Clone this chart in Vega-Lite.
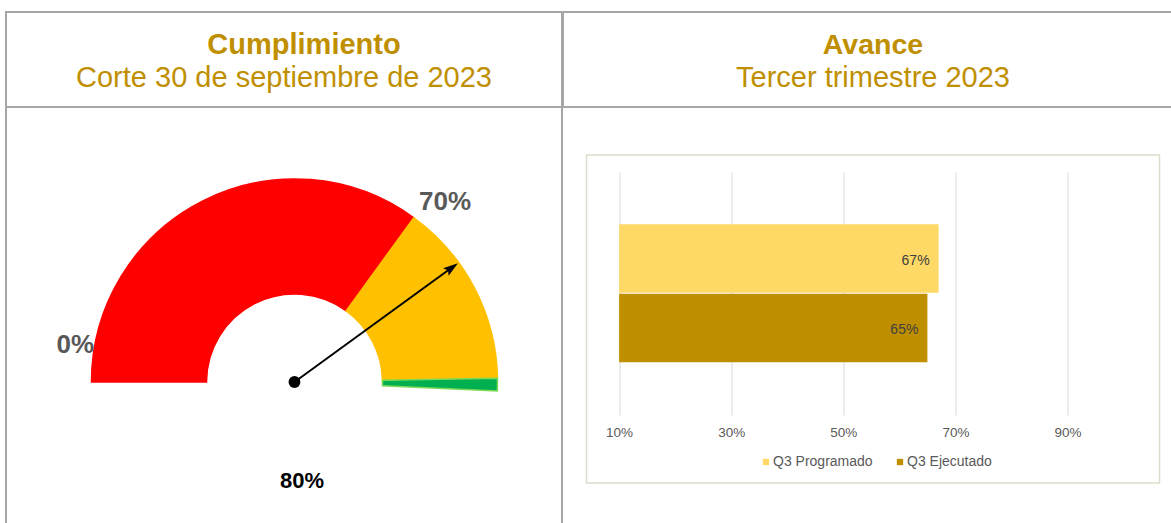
{
  "$schema": "https://vega.github.io/schema/vega-lite/v6.json",
  "padding": {"left": 5, "top": 11, "right": 0, "bottom": 0},
  "background": "white",
  "config": {
    "font": "Liberation Sans",
    "view": {"stroke": "#A6A6A6", "strokeWidth": 2}
  },
  "datasets": {
    "encabezados": [
      {"panel": "Cumplimiento", "titulo": "Cumplimiento", "subtitulo": "Corte 30 de septiembre de 2023"},
      {"panel": "Avance", "titulo": "Avance", "subtitulo": "Tercer trimestre 2023"}
    ],
    "medidor": [
      {"rango": "Bajo", "inicio": 0, "fin": 0.7},
      {"rango": "Medio", "inicio": 0.7, "fin": 0.994},
      {"rango": "Alto", "inicio": 0.994, "fin": 1.014}
    ],
    "cumplimiento": [{"indicador": "Cumplimiento", "valor": 0.8}],
    "avance": [
      {"serie": "Q3 Programado", "valor": 0.67},
      {"serie": "Q3 Ejecutado", "valor": 0.65}
    ]
  },
  "spacing": -2,
  "resolve": {"scale": {"color": "independent", "stroke": "independent"}},
  "hconcat": [
    {
      "bounds": "flush",
      "spacing": 0,
      "vconcat": [
        {
          "width": 556,
          "height": 95,
          "view": {"style": "cell", "stroke": "#A6A6A6", "strokeWidth": 2},
          "data": {"name": "encabezados"},
          "transform": [{"filter": "datum.panel === 'Cumplimiento'"}],
          "layer": [
            {"mark": {"type": "text", "fontWeight": "bold", "fontSize": 29, "color": "#BF8F00", "baseline": "alphabetic", "dy": -6, "dx": 20}, "encoding": {"text": {"field": "titulo"}}},
            {"mark": {"type": "text", "fontSize": 29, "color": "#BF8F00", "baseline": "alphabetic", "dy": 27}, "encoding": {"text": {"field": "subtitulo"}}}
          ]
        },
        {
          "width": 556,
          "height": 423,
          "layer": [
            {
              "data": {"name": "medidor"},
              "mark": {"type": "arc", "innerRadius": 88, "outerRadius": 203, "strokeWidth": 1.5},
              "encoding": {
                "x": {"datum": 0, "type": "quantitative", "scale": {"domain": [-1.4142, 1.3113], "nice": false, "zero": false}, "axis": null},
                "y": {"datum": 0, "type": "quantitative", "scale": {"domain": [-0.7255, 1.348], "nice": false, "zero": false}, "axis": null},
                "theta": {"field": "inicio", "type": "quantitative", "scale": {"domain": [0, 1], "range": [-1.5708, 1.5708]}, "stack": null},
                "theta2": {"field": "fin"},
                "color": {"field": "rango", "type": "nominal", "scale": {"domain": ["Bajo", "Medio", "Alto"], "range": ["#FF0000", "#FFC000", "#00B050"]}, "legend": null},
                "stroke": {"field": "rango", "type": "nominal", "scale": {"domain": ["Bajo", "Medio", "Alto"], "range": ["#FF0000", "#FFC000", "#7ED957"]}, "legend": null}
              }
            },
            {
              "data": {"name": "cumplimiento"},
              "mark": {"type": "rule", "color": "#000000", "strokeWidth": 2},
              "encoding": {
                "x": {"datum": 0, "type": "quantitative", "scale": {"domain": [-1.4142, 1.3113], "nice": false, "zero": false}, "axis": null},
                "y": {"datum": 0, "type": "quantitative", "scale": {"domain": [-0.7255, 1.348], "nice": false, "zero": false}, "axis": null},
                "x2": {"datum": 0.755},
                "y2": {"datum": 0.549}
              }
            },
            {
              "data": {"name": "cumplimiento"},
              "mark": {"type": "point", "shape": "M0,0L-0.45,1.4L0,1.15L0.45,1.4Z", "filled": true, "color": "#000000", "opacity": 1, "size": 450, "angle": 54},
              "encoding": {
                "x": {"datum": 0.801, "type": "quantitative", "scale": {"domain": [-1.4142, 1.3113], "nice": false, "zero": false}, "axis": null},
                "y": {"datum": 0.582, "type": "quantitative", "scale": {"domain": [-0.7255, 1.348], "nice": false, "zero": false}, "axis": null}
              }
            },
            {
              "data": {"name": "cumplimiento"},
              "mark": {"type": "point", "shape": "circle", "filled": true, "color": "#000000", "opacity": 1, "size": 140},
              "encoding": {
                "x": {"datum": 0, "type": "quantitative", "scale": {"domain": [-1.4142, 1.3113], "nice": false, "zero": false}, "axis": null},
                "y": {"datum": 0, "type": "quantitative", "scale": {"domain": [-0.7255, 1.348], "nice": false, "zero": false}, "axis": null}
              }
            },
            {
              "data": {"name": "medidor"},
              "transform": [{"filter": "datum.rango === 'Bajo'"}],
              "mark": {"type": "text", "fontWeight": "bold", "fontSize": 26, "color": "#595959", "baseline": "middle"},
              "encoding": {
                "x": {"datum": -1.074, "type": "quantitative", "scale": {"domain": [-1.4142, 1.3113], "nice": false, "zero": false}, "axis": null},
                "y": {"datum": 0.181, "type": "quantitative", "scale": {"domain": [-0.7255, 1.348], "nice": false, "zero": false}, "axis": null},
                "text": {"field": "inicio", "format": ".0%"}
              }
            },
            {
              "data": {"name": "medidor"},
              "transform": [{"filter": "datum.rango === 'Medio'"}],
              "mark": {"type": "text", "fontWeight": "bold", "fontSize": 26, "color": "#595959", "baseline": "middle"},
              "encoding": {
                "x": {"datum": 0.738, "type": "quantitative", "scale": {"domain": [-1.4142, 1.3113], "nice": false, "zero": false}, "axis": null},
                "y": {"datum": 0.882, "type": "quantitative", "scale": {"domain": [-0.7255, 1.348], "nice": false, "zero": false}, "axis": null},
                "text": {"field": "inicio", "format": ".0%"}
              }
            },
            {
              "data": {"name": "cumplimiento"},
              "mark": {"type": "text", "fontWeight": "bold", "fontSize": 22, "color": "#000000", "baseline": "middle"},
              "encoding": {
                "x": {"datum": 0.037, "type": "quantitative", "scale": {"domain": [-1.4142, 1.3113], "nice": false, "zero": false}, "axis": null},
                "y": {"datum": -0.485, "type": "quantitative", "scale": {"domain": [-0.7255, 1.348], "nice": false, "zero": false}, "axis": null},
                "text": {"field": "valor", "format": ".0%"}
              }
            }
          ]
        }
      ]
    },
    {
      "bounds": "flush",
      "spacing": 48,
      "center": true,
      "vconcat": [
        {
          "width": 620,
          "height": 95,
          "view": {"style": "cell", "stroke": "#A6A6A6", "strokeWidth": 2},
          "data": {"name": "encabezados"},
          "transform": [{"filter": "datum.panel === 'Avance'"}],
          "layer": [
            {"mark": {"type": "text", "fontWeight": "bold", "fontSize": 28.5, "color": "#BF8F00", "baseline": "alphabetic", "dy": -6}, "encoding": {"text": {"field": "titulo"}}},
            {"mark": {"type": "text", "fontSize": 29, "color": "#BF8F00", "baseline": "alphabetic", "dy": 27}, "encoding": {"text": {"field": "subtitulo"}}}
          ]
        },
        {
          "width": 573,
          "height": 328,
          "data": {"name": "avance"},
          "view": {"stroke": "#DCDFCB", "strokeWidth": 1.5},
          "encoding": {
            "y": {"field": "serie", "type": "nominal", "sort": null, "scale": {"range": [16.7, 260], "paddingInner": 0.0144, "paddingOuter": 0.7576}, "axis": null}
          },
          "resolve": {"axis": {"x": "independent"}},
          "layer": [
            {
              "mark": {"type": "bar"},
              "encoding": {
                "x": {
                  "field": "valor", "type": "quantitative",
                  "scale": {"domain": [0.0418, 1.0641], "nice": false, "zero": false},
                  "axis": {"orient": "top", "values": [0.1, 0.3, 0.5, 0.7, 0.9], "grid": true, "gridColor": "#D9D9D9", "gridWidth": 1, "labels": false, "ticks": false, "domain": false, "title": null}
                },
                "x2": {"datum": 0.1},
                "color": {
                  "field": "serie", "type": "nominal", "sort": null,
                  "scale": {"domain": ["Q3 Programado", "Q3 Ejecutado"], "range": ["#FFD966", "#BF8F00"]},
                  "legend": {"orient": "none", "legendX": 196, "legendY": 443, "direction": "horizontal", "title": null, "symbolType": "square", "symbolSize": 40, "labelFontSize": 14, "labelColor": "#595959", "columnPadding": 20, "labelOffset": 0}
                }
              }
            },
            {
              "mark": {"type": "text", "align": "right", "dx": -9, "dy": 2, "fontSize": 14, "color": "#404040"},
              "encoding": {
                "x": {
                  "field": "valor", "type": "quantitative",
                  "axis": {"orient": "bottom", "values": [0.1, 0.3, 0.5, 0.7, 0.9], "format": ".0%", "grid": false, "ticks": false, "tickSize": 0, "domain": false, "labelFontSize": 13.5, "labelColor": "#595959", "labelBaseline": "middle", "labelPadding": 0, "offset": -51, "title": null}
                },
                "text": {"field": "valor", "format": ".0%"}
              }
            }
          ]
        }
      ]
    }
  ]
}
